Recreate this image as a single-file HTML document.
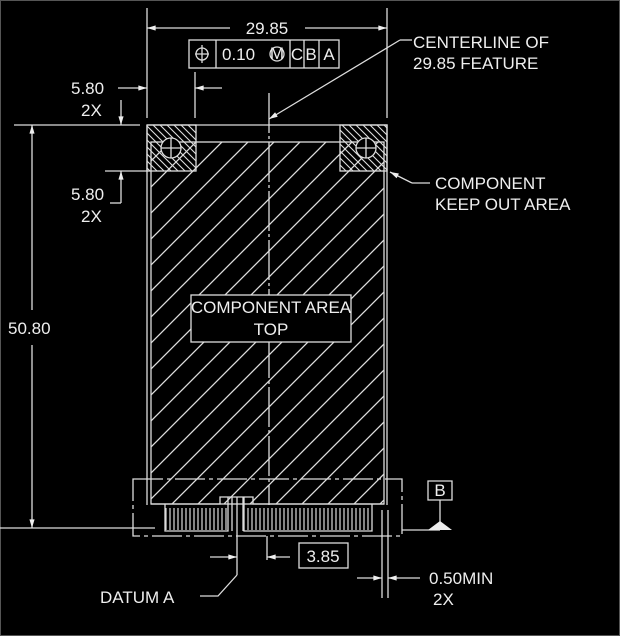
<!DOCTYPE html>
<html><head><style>
html,body{margin:0;padding:0;background:#000;}
svg{display:block;}
text{font-family:"Liberation Sans",sans-serif;fill:#eee;font-size:17px;}
</style></head><body>
<svg width="620" height="636" viewBox="0 0 620 636" xmlns="http://www.w3.org/2000/svg">
<defs>
<pattern id="hm" patternUnits="userSpaceOnUse" width="26" height="26">
<path d="M0 26 L26 0 M-13 13 L13 -13 M13 39 L39 13" stroke="#ddd" stroke-width="1.3"/>
</pattern>
<pattern id="hc" patternUnits="userSpaceOnUse" width="7" height="7">
<path d="M0 0 L7 7 M-7 0 L7 14 M0 -7 L14 7" stroke="#ddd" stroke-width="1.1"/>
</pattern>
<marker id="ar" viewBox="0 0 10 6" refX="10" refY="3" markerWidth="8" markerHeight="4" orient="auto-start-reverse"><path d="M0 0 L10 3 L0 6z" fill="#eee"/></marker>
</defs>
<rect x="0.5" y="0.5" width="619" height="635" fill="none" stroke="#555"/>
<g stroke="#ddd" stroke-width="1.3" fill="none">
<rect x="151" y="142" width="233" height="362" fill="url(#hm)"/>
<path d="M147 125 H387 V505 M147 125 V505"/>
<rect x="147" y="125" width="49" height="46" fill="url(#hc)"/>
<rect x="340" y="125" width="47" height="46" fill="url(#hc)"/>
<circle cx="171" cy="148" r="10" fill="#000"/><path d="M161 148 H181 M171 138 V158"/>
<circle cx="366" cy="148" r="10" fill="#000"/><path d="M356 148 H376 M366 138 V158"/>
<path d="M269 93 V505" stroke-dasharray="40 3 3 3"/>
<path d="M147 8 V118 M387 8 V118"/>
<path d="M230 28 H147" marker-end="url(#ar)"/><path d="M305 28 H387" marker-end="url(#ar)"/>
<rect x="189" y="40" width="150" height="28" fill="#000"/>
<path d="M216 40 V68 M290 40 V68 M304 40 V68 M319 40 V68"/>
<circle cx="202" cy="54" r="6"/><path d="M202 45 V63 M195 54 H209"/>
<circle cx="277" cy="54" r="7"/>
<path d="M400 40 L269 119" marker-end="url(#ar)"/><path d="M400 40 H412"/>
<path d="M195 72 V118"/>
<path d="M118 88 H147" marker-end="url(#ar)"/><path d="M222 88 H195" marker-end="url(#ar)"/>
<path d="M121 100 V125" marker-end="url(#ar)"/>
<path d="M121 203 V171" marker-end="url(#ar)"/><path d="M121 203 H110"/>
<path d="M105 171 H147"/>
<path d="M14 125 H140 M0 528 H155"/>
<path d="M32 310 V125" marker-end="url(#ar)"/><path d="M32 345 V528" marker-end="url(#ar)"/>
<path d="M412 183 L390 172" marker-end="url(#ar)"/><path d="M412 183 H430"/>
<rect x="191" y="295" width="160" height="47" fill="#000"/>
<rect x="133" y="479" width="269" height="57" stroke-dasharray="30 4 4 4"/>
<path d="M151 504 H220 V497 H253 V504 H384"/>
<path d="M165 504 V531 H228 V497 M244 497 V531 H372 V504"/>
<path d="M232 497 V531 M243 497 V531"/>
<path d="M402 530 H440 M428 481 H452 V500 H428 Z M440 500 V524"/>
<path d="M237 575 V497"/>
<path d="M237 575 L218 596 H200"/>
<path d="M210 557 H237" marker-end="url(#ar)"/>
<path d="M267 536 V560"/><path d="M290 557 H267" marker-end="url(#ar)"/>
<rect x="299" y="543" width="49" height="25"/>
<path d="M382 510 V598 M388 510 V598"/>
<path d="M357 578 H382" marker-end="url(#ar)"/><path d="M420 578 H388" marker-end="url(#ar)"/>
</g>
<path d="M166 530 V508 M170 530 V508 M174 530 V508 M178 530 V508 M182 530 V508 M186 530 V508 M190 530 V508 M194 530 V508 M198 530 V508 M202 530 V508 M206 530 V508 M210 530 V508 M214 530 V508 M218 530 V508 M222 530 V508 M226 530 V508 M248 530 V508 M252 530 V508 M256 530 V508 M260 530 V508 M264 530 V508 M268 530 V508 M272 530 V508 M276 530 V508 M280 530 V508 M284 530 V508 M288 530 V508 M292 530 V508 M296 530 V508 M300 530 V508 M304 530 V508 M308 530 V508 M312 530 V508 M316 530 V508 M320 530 V508 M324 530 V508 M328 530 V508 M332 530 V508 M336 530 V508 M340 530 V508 M344 530 V508 M348 530 V508 M352 530 V508 M356 530 V508 M360 530 V508 M364 530 V508 M368 530 V508" stroke="#ddd" stroke-width="1.2"/>
<polygon points="440,521 452,530 428,530" fill="#eee"/>
<text x="267" y="34" text-anchor="middle">29.85</text>
<text x="222" y="60" font-size="16">0.10</text>
<text x="277" y="59" font-size="11" text-anchor="middle">M</text>
<text x="297" y="60" font-size="15" text-anchor="middle">C</text>
<text x="311" y="60" font-size="15" text-anchor="middle">B</text>
<text x="329" y="60" font-size="15" text-anchor="middle">A</text>
<text x="413" y="48">CENTERLINE OF</text>
<text x="413" y="69">29.85 FEATURE</text>
<text x="71" y="94">5.80</text><text x="81" y="116">2X</text>
<text x="71" y="200">5.80</text><text x="81" y="222">2X</text>
<text x="8" y="334">50.80</text>
<text x="435" y="189">COMPONENT</text>
<text x="435" y="210">KEEP OUT AREA</text>
<text x="271" y="313" font-size="14" text-anchor="middle">COMPONENT AREA</text>
<text x="271" y="335" font-size="14" text-anchor="middle">TOP</text>
<text x="440" y="496" font-size="14" text-anchor="middle">B</text>
<text x="323" y="562" text-anchor="middle">3.85</text>
<text x="100" y="603">DATUM A</text>
<text x="429" y="584">0.50MIN</text>
<text x="433" y="605">2X</text>
</svg>
</body></html>
